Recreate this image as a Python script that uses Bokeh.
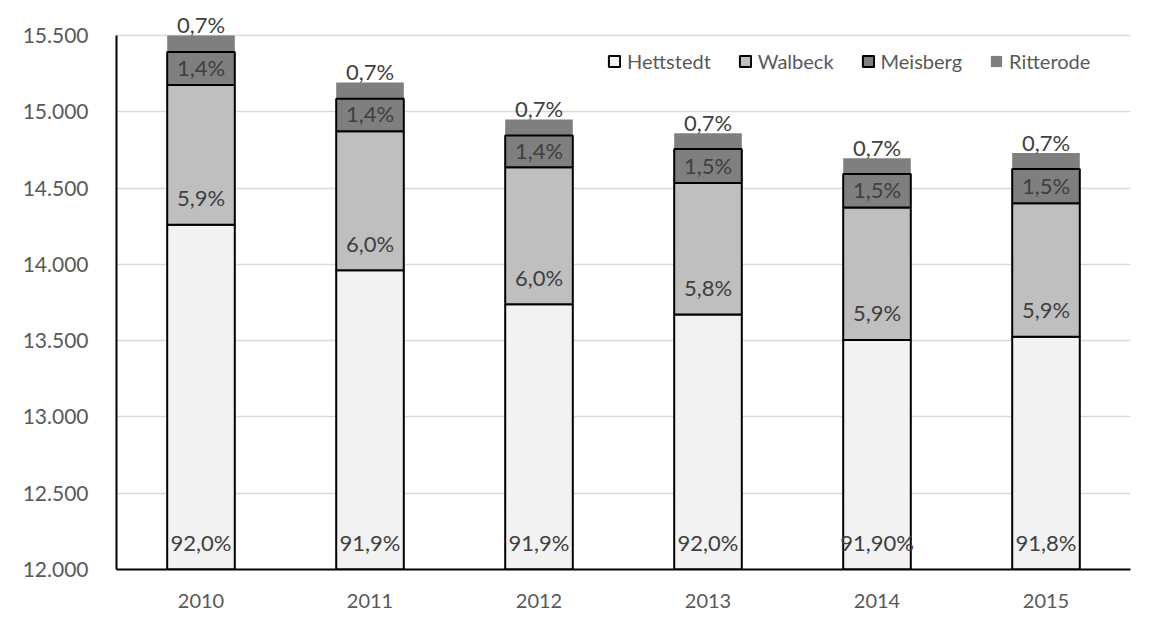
import numpy as np
from bokeh.plotting import figure
from bokeh.models import ColumnDataSource, Range1d, FixedTicker, LabelSet
from bokeh.core.properties import value
from bokeh.embed import file_html
from bokeh.resources import INLINE

# ---- data ----
years = ["2010", "2011", "2012", "2013", "2014", "2015"]
series_names = ["Hettstedt", "Walbeck", "Meisberg", "Ritterode"]
hettstedt = [14260, 13961, 13739, 13671, 13505, 13525]
walbeck = [915, 912, 897, 862, 867, 875]
meisberg = [217, 213, 209, 223, 220, 225]
ritterode = [108, 106, 105, 104, 103, 105]

hett_labels = ["92,0%", "91,9%", "91,9%", "92,0%", "91,90%", "91,8%"]
walb_labels = ["5,9%", "6,0%", "6,0%", "5,8%", "5,9%", "5,9%"]
meis_labels = ["1,4%", "1,4%", "1,4%", "1,5%", "1,5%", "1,5%"]
ritt_labels = ["0,7%", "0,7%", "0,7%", "0,7%", "0,7%", "0,7%"]

y_ticks = [12000, 12500, 13000, 13500, 14000, 14500, 15000, 15500]
y_tick_labels = ["12.000", "12.500", "13.000", "13.500", "14.000", "14.500", "15.000", "15.500"]

# ---- styling / layout ----
FONT = "Lato"
colors = ["#f2f2f2", "#bfbfbf", "#7f7f7f", "#7f7f7f"]
outlines = ["black", "black", "black", None]

AXIS_TOP_PX = 35      # pixel row of the top tick
AXIS_BOTTOM_PX = 569  # pixel row of the bottom tick
px_per_unit = (AXIS_BOTTOM_PX - AXIS_TOP_PX) / (y_ticks[-1] - y_ticks[0])
y_end = y_ticks[-1] + AXIS_TOP_PX / px_per_unit  # extra headroom so top labels are not clipped

source = ColumnDataSource(dict(year=years, Hettstedt=hettstedt, Walbeck=walbeck,
                               Meisberg=meisberg, Ritterode=ritterode))

p = figure(x_range=years, y_range=Range1d(y_ticks[0], y_end),
           width=1150, height=618, output_backend="svg", toolbar_location=None,
           min_border_left=116, min_border_top=0, min_border_right=20, min_border_bottom=49)
p.outline_line_color = None
p.background_fill_color = "white"
p.border_fill_color = "white"

renderers = p.vbar_stack(series_names, x="year", width=0.4, source=source,
                         fill_color=colors, line_color=outlines, line_width=2,
                         legend_label=series_names)

# draw Ritterode first so Meisberg's top outline stays visible
r_last = renderers[-1]
p.renderers = [r for r in p.renderers if r is not r_last]
p.renderers.insert(0, r_last)

# data labels
h = np.array(hettstedt, dtype=float)
w = np.array(walbeck, dtype=float)
m = np.array(meisberg, dtype=float)
ybase = float(y_ticks[0])

def add_labels(ys, texts, yoff):
    src = ColumnDataSource(dict(x=years, y=list(ys), t=texts))
    ls = LabelSet(x="x", y="y", text="t", source=src, text_font=value(FONT),
                  text_font_size="22px", text_color="#404040", text_align="center",
                  text_baseline="middle", y_offset=yoff)
    p.add_layout(ls)

add_labels(np.full(len(years), ybase), hett_labels, 27)
add_labels(h, walb_labels, 27)
add_labels(h + w + m / 2.0, meis_labels, 1)
add_labels(h + w + m, ritt_labels, 27)

# axes
p.yaxis.ticker = FixedTicker(ticks=y_ticks)
p.yaxis.bounds = (y_ticks[0], y_ticks[-1])
p.yaxis.major_label_overrides = {t: l for t, l in zip(y_ticks, y_tick_labels)}
for ax in (p.xaxis[0], p.yaxis[0]):
    ax.axis_line_color = "black"
    ax.axis_line_width = 2
    ax.major_tick_line_color = None
    ax.minor_tick_line_color = None
    ax.major_label_text_font = FONT
    ax.major_label_text_font_size = "20px"
    ax.major_label_text_color = "#595959"
p.yaxis.major_label_text_font_size = "21px"
p.yaxis.major_label_standoff = 22
p.xaxis.major_label_standoff = 18

p.xgrid.grid_line_color = None
p.ygrid.grid_line_color = "#d9d9d9"
p.ygrid.grid_line_width = 1.5

# legend
lg = p.legend[0]
lg.orientation = "horizontal"
lg.location = (491, 496)
lg.margin = 0
lg.padding = 0
lg.border_line_color = None
lg.background_fill_alpha = 0
lg.glyph_width = 14
lg.glyph_height = 14
lg.label_standoff = 6
lg.spacing = 27
lg.label_text_font = FONT
lg.label_text_font_size = "20px"
lg.label_text_color = "#595959"

open("out.html", "w").write(file_html(p, INLINE))
